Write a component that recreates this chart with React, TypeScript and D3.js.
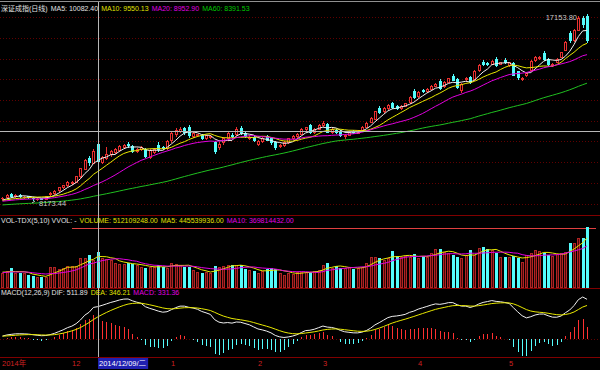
import React, { useEffect, useRef } from "react";
import * as d3 from "d3";

// 深证成指 日线, 2014-11-07 .. 2015-05-28
// closes before the window, only used to warm up MA60 / MACD
const priorCloses = [
  7560, 7600, 7580, 7640, 7700, 7680, 7720, 7650, 7610, 7590,
  7630, 7680, 7720, 7700, 7660, 7640, 7690, 7720, 7750, 7700,
  7660, 7640, 7820, 7900, 7960, 8010, 8050, 8120, 8100, 8160,
  8130, 8080, 8040, 8090, 8150, 8180, 8210, 8170, 8120, 8060,
  7990, 7950, 7980, 8030, 8080, 8110, 8140, 8170, 8200, 8150,
  8100, 8080, 8120, 8160, 8190, 8150, 8110, 8140, 8180,
];

const opens = [
  8250, 8300, 8450, 8360, 8420, 8320, 8350, 8290, 8220, 8250,
  8240, 8450, 8510, 8650, 8790, 8900, 8980, 9060, 9330, 9680,
  10200, 9980, 10900, 10000, 10200, 10400, 10500, 10600, 10750, 10900,
  10800, 10550, 10650, 10650, 10250, 10500, 10850, 10750, 10700, 11050,
  11350, 11500, 11650, 11700, 11280, 11300, 11300, 11170, 11220, 10950,
  10720, 10950, 11150, 11330, 11350, 11650, 11400, 11180, 11200, 10900,
  11000, 11250, 11150, 10950, 10800, 10850, 10950, 11150, 11250, 11380,
  11600, 11780, 11450, 11620, 11800, 11850, 11450, 11560, 11500, 11250,
  11330, 11500, 11430, 11530, 11720, 11950, 12100, 12600, 12450, 12600,
  12850, 12700, 12620, 12720, 12900, 13450, 13200, 13480, 13420, 13550,
  13700, 13900, 13700, 13880, 14150, 14000, 13480, 14000, 14100, 14000,
  14450, 14850, 14800, 14760, 14980, 14760, 14950, 14700, 14800, 14380,
  14030, 14200, 14450, 14920, 15050, 15250, 14980, 14700, 14850, 15100,
  15420, 16250, 15900, 16400, 16980, 17050,
];
const highs = [
  8310, 8480, 8520, 8440, 8450, 8370, 8380, 8320, 8270, 8290,
  8390, 8540, 8660, 8820, 8910, 9080, 9100, 9350, 9720, 10140,
  10300, 10620, 11020, 10300, 10750, 10600, 10680, 10850, 10900, 10990,
  10850, 10700, 10780, 10700, 10620, 10700, 10950, 10800, 11050, 11500,
  11650, 11700, 11700, 11800, 11450, 11380, 11350, 11330, 11300, 11000,
  10950, 11200, 11450, 11400, 11700, 11750, 11450, 11300, 11260, 11050,
  11200, 11300, 11200, 11000, 10900, 11000, 11180, 11300, 11420, 11650,
  11720, 11850, 11650, 11830, 12000, 11900, 11650, 11620, 11550, 11380,
  11500, 11550, 11570, 11730, 11940, 12200, 12480, 12700, 12640, 12800,
  12900, 12760, 12760, 12880, 13180, 13550, 13430, 13540, 13580, 13730,
  13810, 14000, 13900, 14080, 14250, 14050, 13800, 14100, 14150, 14430,
  14730, 14920, 14850, 14930, 15100, 14860, 15050, 14860, 14850, 14420,
  14120, 14350, 14930, 15130, 15150, 15350, 15020, 14800, 15030, 15330,
  15830, 16350, 16430, 17050, 17050, 17153.8,
];
const lows = [
  8200, 8290, 8330, 8320, 8310, 8290, 8280, 8173.44, 8190, 8210,
  8220, 8420, 8480, 8620, 8760, 8870, 8950, 9040, 9300, 9650,
  9850, 9950, 9900, 9950, 10150, 10300, 10450, 10560, 10700, 10750,
  10500, 10500, 10600, 10250, 10200, 10450, 10550, 10650, 10650, 10950,
  11250, 11450, 11350, 11200, 11200, 11280, 11120, 11130, 11180, 10450,
  10650, 10900, 11100, 11200, 11300, 11380, 11200, 11120, 11000, 10850,
  10950, 11050, 10900, 10650, 10750, 10800, 10920, 11100, 11200, 11350,
  11550, 11420, 11400, 11580, 11750, 11450, 11400, 11420, 11250, 11150,
  11300, 11400, 11400, 11500, 11700, 11920, 12080, 12380, 12400, 12560,
  12600, 12550, 12580, 12690, 12870, 13100, 13150, 13380, 13380, 13520,
  13670, 13550, 13650, 13850, 13950, 13600, 13400, 13950, 13820, 13950,
  14420, 14700, 14700, 14730, 14650, 14720, 14790, 14650, 14200, 14000,
  13950, 14150, 14420, 14880, 15000, 14950, 14680, 14650, 14820, 15070,
  15400, 15800, 15850, 16380, 16550, 15800,
];
const closes = [
  8280, 8420, 8380, 8400, 8350, 8330, 8310, 8250, 8235, 8240,
  8360, 8510, 8630, 8790, 8880, 9055, 9045, 9325, 9700, 10110,
  10000, 10560, 10040, 10250, 10400, 10550, 10620, 10800, 10850, 10830,
  10550, 10650, 10720, 10300, 10580, 10650, 10620, 10700, 11015, 11400,
  11550, 11600, 11450, 11300, 11400, 11350, 11170, 11300, 11260, 10540,
  10900, 11150, 11400, 11260, 11600, 11420, 11250, 11230, 11050, 11000,
  11150, 11080, 10950, 10720, 10850, 10950, 11150, 11250, 11380, 11600,
  11680, 11460, 11620, 11800, 11900, 11480, 11600, 11480, 11300, 11330,
  11450, 11450, 11530, 11700, 11900, 12150, 12450, 12420, 12600, 12750,
  12650, 12600, 12720, 12850, 13150, 13150, 13400, 13430, 13550, 13700,
  13780, 13600, 13880, 14050, 13980, 13650, 13780, 14060, 13870, 14400,
  14700, 14750, 14760, 14900, 14680, 14820, 14820, 14820, 14220, 14130,
  14080, 14300, 14900, 15100, 15080, 15000, 14720, 14760, 15000, 15300,
  15800, 15900, 16400, 16950, 16650, 15900,
];

// volume in millions
const priorVolumes = [190, 210, 230, 200, 185, 220, 240, 215, 205];
const volumes = [
  210, 230, 278, 205, 205, 200, 176, 160, 146, 146,
  150, 293, 293, 270, 285, 300, 305, 310, 424, 424,
  468, 400, 512.109248, 424, 410, 395, 351, 336, 336, 351,
  336, 322, 293, 278, 293, 293, 322, 293, 278, 351,
  336, 322, 293, 293, 249, 219, 205, 219, 205, 307,
  293, 307, 322, 322, 322, 322, 263, 249, 234, 205,
  234, 263, 278, 263, 205, 176, 205, 190, 219, 219,
  219, 219, 234, 249, 322, 351, 278, 307, 278, 278,
  293, 263, 278, 293, 351, 439, 439, 424, 395, 424,
  527, 454, 439, 454, 439, 483, 424, 454, 439, 497,
  556, 556, 512, 497, 468, 439, 424, 468, 541, 468,
  571, 585, 556, 541, 497, 439, 439, 439, 454, 424,
  366, 468, 497, 541, 527, 497, 468, 454, 483, 497,
  512, 644, 644, 717, 717, 878,
];

const monthLabels = ["2014年", "12", "1", "2", "3", "4", "5"];
const monthStartIdx = [0, 16, 39, 59, 74, 96, 117];

const cursorIdx = 22;
const cursorPrice = 11500;
const cursorDate = "2014/12/09/二";

const priceTitle = ["深证成指(日线)", "MA5: 10082.40", "MA10: 9550.13", "MA20: 8952.90", "MA60: 8391.53"];
const volTitle = ["VOL-TDX(5,10) VVOL: -", "VOLUME: 512109248.00", "MA5: 445539936.00", "MA10: 369814432.00"];
const macdTitle = ["MACD(12,26,9) DIF: 511.89", "DEA: 346.21", "MACD: 331.36"];

const RED = "#e83030";
const CYAN = "#54fcfc";
const FONT = "'Liberation Sans', Arial, 'Noto Sans CJK SC', sans-serif";

function movingAvg(all: number[], skip: number, n: number) {
  const out: (number | null)[] = [];
  for (let i = skip; i < all.length; i++) {
    if (i - n + 1 < 0) { out.push(null); continue; }
    out.push(d3.mean(all.slice(i - n + 1, i + 1)) as number);
  }
  return out;
}

function ema(vals: number[], n: number) {
  const out: number[] = [];
  vals.forEach((v, i) => out.push(i === 0 ? v : (2 * v + (n - 1) * out[i - 1]) / (n + 1)));
  return out;
}

const App = () => {
  const ref = useRef<SVGSVGElement>(null);

  useEffect(() => {
    const svg = d3.select(ref.current);
    svg.selectAll("*").remove();
    const n = closes.length;
    const idx = d3.range(n);

    const x = d3.scaleBand<number>().domain(idx).range([0.33, 589.21]).paddingInner(0.3).paddingOuter(0.15);
    const cx = (i: number) => Math.round((x(i) as number) + x.bandwidth() / 2);

    const y = d3.scaleLinear().domain([d3.min(lows) as number, d3.max(highs) as number]).range([200, 14]);
    const yv = d3.scaleLinear().domain([0, d3.max(volumes) as number]).range([287, 227]);

    // indicators
    const allC = priorCloses.concat(closes);
    const P = priorCloses.length;
    const maList = [5, 10, 20, 60].map((k) => movingAvg(allC, P, k));
    const allV = priorVolumes.concat(volumes);
    const vma = [5, 10].map((k) => movingAvg(allV, priorVolumes.length, k));
    const e12 = ema(allC, 12), e26 = ema(allC, 26);
    const difAll = e12.map((v, i) => v - e26[i]);
    const deaAll = ema(difAll, 9);
    const dif = difAll.slice(P), dea = deaAll.slice(P);
    const macd = dif.map((v, i) => 2 * (v - dea[i]));
    const ym = d3.scaleLinear()
      .domain([d3.min([...dif, ...dea, ...macd]) as number, d3.max([...dif, ...dea, ...macd]) as number])
      .range([356, 297]);

    // frame lines
    const frame = svg.append("g").attr("shape-rendering", "crispEdges");
    frame.append("line").attr("x1", 0).attr("x2", 600).attr("y1", 1.5).attr("y2", 1.5).attr("stroke", "#909090");
    [215.5, 288.5, 357.5].forEach((yy) =>
      frame.append("line").attr("x1", 0).attr("x2", 600).attr("y1", yy).attr("y2", yy).attr("stroke", "#800000"));

    // price grid every 1000 points
    frame.selectAll(".pg").data(d3.range(8000, 17001, 1000)).enter().append("line")
      .attr("x1", 0).attr("x2", 600)
      .attr("y1", (d) => Math.round(y(d)) + 0.5).attr("y2", (d) => Math.round(y(d)) + 0.5)
      .attr("stroke", "#600000").attr("stroke-dasharray", "1,2");
    frame.append("line").attr("x1", 0).attr("x2", 600)
      .attr("y1", Math.round(ym(0)) + 0.5).attr("y2", Math.round(ym(0)) + 0.5)
      .attr("stroke", "#600000").attr("stroke-dasharray", "1,2");

    // max volume line
    const vmaxIdx = d3.maxIndex(volumes);
    frame.append("line").attr("x1", cx(16)).attr("x2", 596)
      .attr("y1", Math.round(yv(volumes[vmaxIdx])) + 1.5).attr("y2", Math.round(yv(volumes[vmaxIdx])) + 1.5)
      .attr("stroke", "#e04040").attr("stroke-width", 1);

    // candles
    const cg = svg.append("g").attr("shape-rendering", "crispEdges");
    idx.forEach((i) => {
      const up = closes[i] >= opens[i];
      const c = cx(i);
      cg.append("line").attr("x1", c + 0.5).attr("x2", c + 0.5)
        .attr("y1", Math.round(y(highs[i]))).attr("y2", Math.round(y(lows[i])) + 1)
        .attr("stroke", up ? RED : CYAN);
      const top = Math.round(y(Math.max(opens[i], closes[i])));
      const bot = Math.round(y(Math.min(opens[i], closes[i])));
      if (up) {
        cg.append("rect").attr("x", c - 0.5).attr("y", top + 0.5).attr("width", 2).attr("height", Math.max(0.01, bot - top))
          .attr("fill", "#000").attr("stroke", RED);
      } else {
        cg.append("rect").attr("x", c - 1).attr("y", top).attr("width", 3).attr("height", Math.max(1, bot - top + 1))
          .attr("fill", CYAN);
      }
      // volume
      const vt = Math.round(yv(volumes[i]));
      if (up) {
        cg.append("rect").attr("x", c - 0.5).attr("y", vt + 0.5).attr("width", 2).attr("height", 287 - vt)
          .attr("fill", "#4a0808").attr("stroke", "#b02424");
      } else {
        cg.append("rect").attr("x", c - 1).attr("y", vt).attr("width", 3).attr("height", 288 - vt).attr("fill", CYAN);
      }
      // macd histogram
      const z = Math.round(ym(0)), m = Math.round(ym(macd[i]));
      cg.append("line").attr("x1", c + 0.5).attr("x2", c + 0.5).attr("y1", z).attr("y2", m)
        .attr("stroke", macd[i] >= 0 ? "#ff3030" : CYAN);
    });

    // lines
    const lineOf = (sc: d3.ScaleLinear<number, number>) =>
      d3.line<number | null>().defined((d) => d != null).x((_, i) => (x(i) as number) + x.bandwidth() / 2).y((d) => sc(d as number));
    const maColors = ["#f0f0f0", "#e8e800", "#e000e0", "#20c020"];
    maList.forEach((s, k) =>
      svg.append("path").attr("d", lineOf(y)(s)).attr("fill", "none").attr("stroke", maColors[k]).attr("stroke-width", 1));
    vma.forEach((s, k) =>
      svg.append("path").attr("d", lineOf(yv)(s)).attr("fill", "none").attr("stroke", ["#e8e800", "#e000e0"][k]).attr("stroke-width", 1));
    svg.append("path").attr("d", lineOf(ym)(dif)).attr("fill", "none").attr("stroke", "#f0f0f0");
    svg.append("path").attr("d", lineOf(ym)(dea)).attr("fill", "none").attr("stroke", "#e8e800");

    // high / low labels
    const hiIdx = d3.maxIndex(highs), loIdx = d3.minIndex(lows);
    svg.append("text").attr("x", cx(hiIdx) - 10).attr("y", y(highs[hiIdx]) + 6).attr("text-anchor", "end")
      .attr("fill", "#c8c8c8").attr("font-size", 7.5).attr("font-family", FONT).text(highs[hiIdx].toFixed(2));
    svg.append("line").attr("x1", cx(loIdx) - 1).attr("x2", cx(loIdx) + 2)
      .attr("y1", y(lows[loIdx]) + 3).attr("y2", y(lows[loIdx]) + 1).attr("stroke", "#c8c8c8");
    svg.append("text").attr("x", cx(loIdx) + 6).attr("y", y(lows[loIdx]) + 6)
      .attr("fill", "#c8c8c8").attr("font-size", 7.5).attr("font-family", FONT).text(lows[loIdx].toFixed(2));

    // cursor
    const cur = svg.append("g").attr("shape-rendering", "crispEdges");
    cur.append("line").attr("x1", cx(cursorIdx) + 0.5).attr("x2", cx(cursorIdx) + 0.5).attr("y1", 2).attr("y2", 357)
      .attr("stroke", "#b8b8b8");
    cur.append("line").attr("x1", 0).attr("x2", 600).attr("y1", Math.round(y(cursorPrice)) + 0.5).attr("y2", Math.round(y(cursorPrice)) + 0.5)
      .attr("stroke", "#b8b8b8");

    // titles
    const titleRow = (texts: string[], colors: string[], yy: number) => {
      let xx = 1;
      texts.forEach((t, k) => {
        const el = svg.append("text").attr("x", xx).attr("y", yy).attr("fill", colors[k])
          .attr("font-size", 7).attr("font-family", FONT).text(t);
        xx += (el.node() as SVGTextElement).getComputedTextLength() + 3;
      });
    };
    titleRow(priceTitle, ["#e0e0e0", "#e0e0e0", "#e0e000", "#e000e0", "#00c800"], 11);
    titleRow(volTitle, ["#e0e0e0", "#e0e000", "#e0e000", "#e000e0"], 223);
    titleRow(macdTitle, ["#e0e0e0", "#e0e000", "#e000e0"], 295);

    // date strip
    monthStartIdx.forEach((mi, k) => {
      if (mi === cursorIdx) return;
      svg.append("text").attr("x", cx(mi)).attr("y", 366).attr("fill", "#d02020")
        .attr("font-size", 7.5).attr("font-family", FONT).text(monthLabels[k]);
    });
    const dateText = svg.append("text").attr("x", cx(cursorIdx) + 1).attr("y", 366).attr("fill", "#ffffff")
      .attr("font-size", 7.5).attr("font-family", FONT).text(cursorDate);
    const dw = (dateText.node() as SVGTextElement).getComputedTextLength();
    svg.insert("rect", () => dateText.node() as SVGTextElement)
      .attr("x", cx(cursorIdx)).attr("y", 358).attr("width", dw + 3).attr("height", 11).attr("fill", "#2020b0");
  }, []);

  return (
    <>
      <style>{`html,body{margin:0;padding:0;background:#000;}`}</style>
      <svg ref={ref} width={600} height={370} style={{ display: "block", background: "#000" }} />
    </>
  );
};

export default App;
